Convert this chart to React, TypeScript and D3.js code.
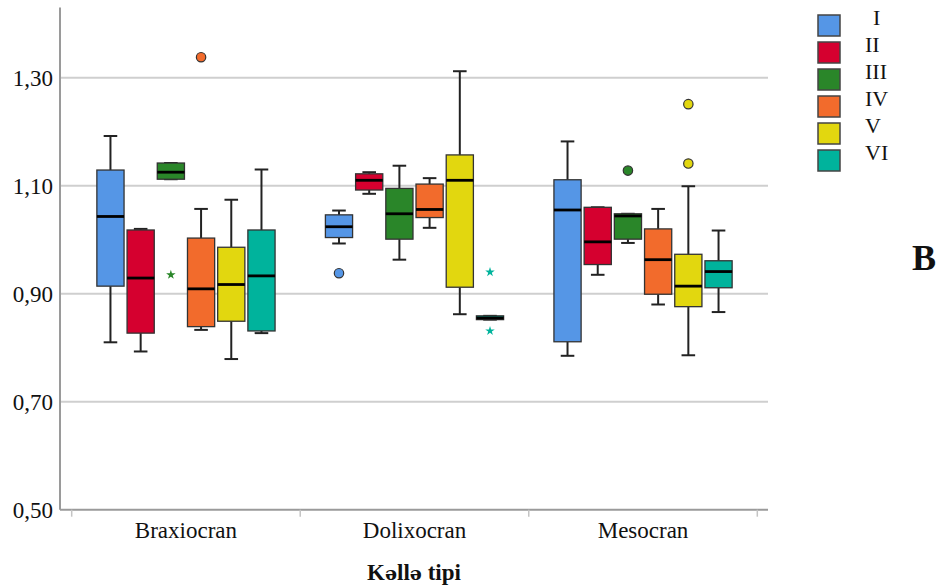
import React from "react";
import * as d3 from "d3";

const categories = ["Braxiocran", "Dolixocran", "Mesocran"];
const groups = ["I", "II", "III", "IV", "V", "VI"];
const colors = ["#5596E6", "#D5002F", "#2A8629", "#F26B2C", "#E2D70F", "#00B39C"];
const yTicks = [0.5, 0.7, 0.9, 1.1, 1.3];
const xTitle = "Kəllə tipi";

// [category][group]
const whiskerLow = [
  [0.81, 0.793, 1.112, 0.833, 0.779, 0.827],
  [0.993, 1.085, 0.963, 1.022, 0.862, 0.852],
  [0.785, 0.935, 0.994, 0.88, 0.786, 0.866],
];
const q1 = [
  [0.914, 0.827, 1.112, 0.839, 0.849, 0.831],
  [1.004, 1.092, 1.001, 1.041, 0.912, 0.852],
  [0.811, 0.954, 1.001, 0.899, 0.876, 0.911],
];
const medians = [
  [1.043, 0.929, 1.125, 0.909, 0.917, 0.933],
  [1.024, 1.11, 1.048, 1.056, 1.11, 0.855],
  [1.055, 0.996, 1.044, 0.963, 0.914, 0.941],
];
const q3 = [
  [1.129, 1.018, 1.142, 1.003, 0.986, 1.018],
  [1.046, 1.122, 1.095, 1.103, 1.157, 0.859],
  [1.111, 1.06, 1.048, 1.02, 0.973, 0.961],
];
const whiskerHigh = [
  [1.192, 1.02, 1.142, 1.057, 1.074, 1.13],
  [1.054, 1.125, 1.137, 1.114, 1.312, 0.859],
  [1.182, 1.06, 1.048, 1.057, 1.099, 1.017],
];
// outliers: [categoryIndex, groupIndex, value, kind]
const outliers: [number, number, number, string][] = [
  [0, 2, 0.935, "star"],
  [0, 3, 1.338, "circle"],
  [1, 0, 0.938, "circle"],
  [1, 5, 0.94, "star"],
  [1, 5, 0.831, "star"],
  [2, 2, 1.128, "circle"],
  [2, 4, 1.251, "circle"],
  [2, 4, 1.141, "circle"],
];

const W = 937;
const H = 588;
const plotLeft = 60;
const plotRight = 768;
const plotTop = 7.5;
const plotBottom = 509.7;
const serif = "'Liberation Serif', 'DejaVu Serif', serif";

export default function App() {
  const y = d3.scaleLinear().domain([0.5, 1.43]).range([plotBottom, plotTop]);
  const x0 = d3.scaleBand<string>().domain(categories).range([71.7, 757.3]).padding(0);
  const bw = x0.bandwidth();
  const groupSpan = 178.2;
  const x1 = d3
    .scaleBand<string>()
    .domain(groups)
    .range([(bw - groupSpan) / 2, (bw + groupSpan) / 2])
    .paddingInner(0.1)
    .paddingOuter(0);
  const boxW = x1.bandwidth();
  const capW = boxW / 2;
  const star = d3.symbol().type(d3.symbolStar).size(28)();

  const boundaries = [...categories.map((c) => x0(c)!), x0(categories[2])! + bw];
  const titleParts = xTitle.split(/(ə)/).filter((s) => s.length > 0);

  return (
    <svg width={W} height={H} style={{ position: "absolute", left: 0, top: 0, background: "#fff" }}>
      {yTicks.slice(1).map((t) => (
        <line key={t} x1={plotLeft} x2={plotRight} y1={y(t)} y2={y(t)} stroke="#cfcfcf" strokeWidth={2} />
      ))}
      <line x1={plotLeft} x2={plotLeft} y1={plotTop} y2={plotBottom} stroke="#9a9a9a" strokeWidth={2} />
      <line x1={plotLeft} x2={plotRight} y1={plotBottom} y2={plotBottom} stroke="#9a9a9a" strokeWidth={2} />
      {boundaries.map((b, i) => (
        <line key={i} x1={b} x2={b} y1={plotBottom} y2={plotBottom + 7} stroke="#c4c4c4" strokeWidth={1.5} />
      ))}
      {yTicks.map((t) => (
        <text key={t} x={53} y={y(t)} dy="0.35em" textAnchor="end" fontFamily={serif} fontSize={23} fill="#111">
          {d3.format(".2f")(t).replace(".", ",")}
        </text>
      ))}
      {categories.map((c) => (
        <text key={c} x={x0(c)! + bw / 2} y={538} textAnchor="middle" fontFamily={serif} fontSize={23} fill="#111">
          {c}
        </text>
      ))}
      <text x={(plotLeft + plotRight) / 2} y={580} textAnchor="middle" fontSize={23} fontWeight="bold" fill="#111">
        {titleParts.map((p, i) => (
          <tspan key={i} fontFamily={p === "ə" ? "'DejaVu Serif', serif" : "'Liberation Serif', serif"} fontSize={p === "ə" ? 19 : 23}>
            {p}
          </tspan>
        ))}
      </text>
      <text x={912} y={270} fontFamily={serif} fontSize={36} fontWeight="bold" fill="#111">
        B
      </text>
      {categories.map((c, ci) =>
        groups.map((g, gi) => {
          const left = x0(c)! + x1(g)!;
          const cx = left + boxW / 2;
          return (
            <g key={c + g}>
              <line x1={cx} x2={cx} y1={y(whiskerHigh[ci][gi])} y2={y(q3[ci][gi])} stroke="#222" strokeWidth={2} />
              <line x1={cx} x2={cx} y1={y(q1[ci][gi])} y2={y(whiskerLow[ci][gi])} stroke="#222" strokeWidth={2} />
              <line x1={cx - capW / 2} x2={cx + capW / 2} y1={y(whiskerHigh[ci][gi])} y2={y(whiskerHigh[ci][gi])} stroke="#222" strokeWidth={2} />
              <line x1={cx - capW / 2} x2={cx + capW / 2} y1={y(whiskerLow[ci][gi])} y2={y(whiskerLow[ci][gi])} stroke="#222" strokeWidth={2} />
              <rect
                x={left}
                y={y(q3[ci][gi])}
                width={boxW}
                height={Math.max(1, y(q1[ci][gi]) - y(q3[ci][gi]))}
                fill={colors[gi]}
                stroke="#333"
                strokeWidth={1.3}
              />
              <line x1={left} x2={left + boxW} y1={y(medians[ci][gi])} y2={y(medians[ci][gi])} stroke="#000" strokeWidth={2.8} />
            </g>
          );
        })
      )}
      {outliers.map(([ci, gi, v, kind], i) => {
        const cx = x0(categories[ci])! + x1(groups[gi])! + boxW / 2;
        return kind === "circle" ? (
          <circle key={i} cx={cx} cy={y(v)} r={4.7} fill={colors[gi]} stroke="#333" strokeWidth={1.2} />
        ) : (
          <path key={i} d={star!} transform={`translate(${cx},${y(v)})`} fill={colors[gi]} />
        );
      })}
      {groups.map((g, gi) => (
        <g key={g}>
          <rect x={818} y={15 + gi * 27} width={22} height={21} fill={colors[gi]} stroke="#444" strokeWidth={1.5} />
          <text x={gi === 0 ? 873 : 865} y={25 + gi * 27} fontFamily={serif} fontSize={22} fill="#111">
            {g}
          </text>
        </g>
      ))}
    </svg>
  );
}
